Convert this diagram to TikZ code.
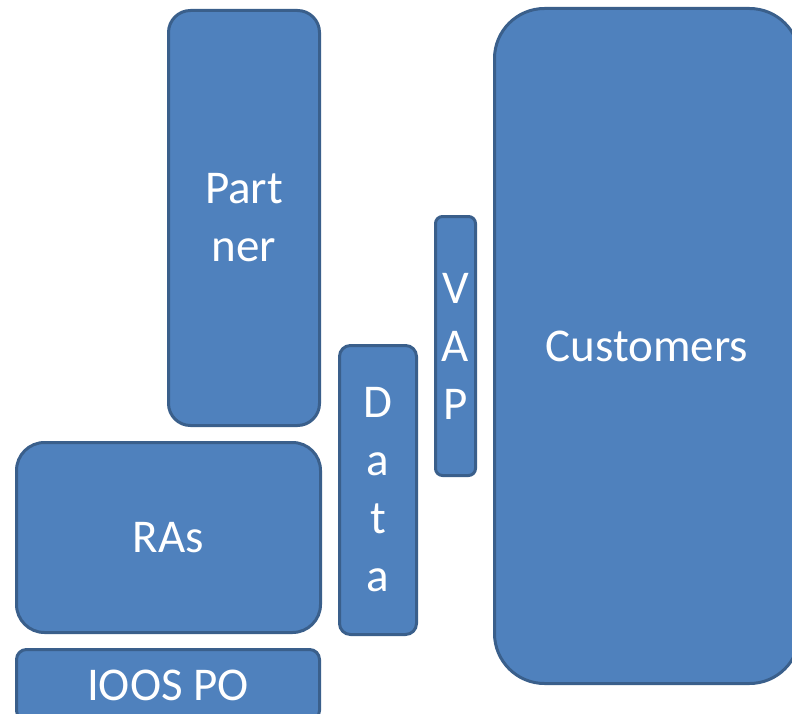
\documentclass[tikz,border=0pt]{standalone}
\usepackage{fontspec}
\setmainfont{Carlito}
\definecolor{boxfill}{HTML}{4F81BD}
\definecolor{boxline}{HTML}{3A5F8B}
\begin{document}
\begin{tikzpicture}[x=1pt,y=-1pt,
  blk/.style={draw=boxline, fill=boxfill, line width=3pt, rectangle, inner sep=0pt,
    text=white, align=center, font=\fontsize{47}{58}\selectfont}]
\useasboundingbox (0,0) rectangle (792,714);
\clip (0,0) rectangle (792,714);
\node[blk, rounded corners=22pt, minimum width=151pt, minimum height=415pt] (partner) at (244,218) {Part\\ner};
\node[blk, rounded corners=28pt, minimum width=304pt, minimum height=190pt] (ras) at (168.5,537.5) {RAs};
\node[blk, rounded corners=10pt, minimum width=303pt, minimum height=71pt] (ioos) at (168,685) {IOOS PO};
\node[blk, rounded corners=11pt, minimum width=77pt, minimum height=289pt] (data) at (378,490) {D\\a\\t\\a};
\node[blk, rounded corners=7pt, minimum width=40pt, minimum height=259pt] (vap) at (455.5,346) {V\\A\\P};
\node[blk, rounded corners=50pt, minimum width=305pt, minimum height=675pt] (cust) at (647,346) {Customers};
\end{tikzpicture}
\end{document}
